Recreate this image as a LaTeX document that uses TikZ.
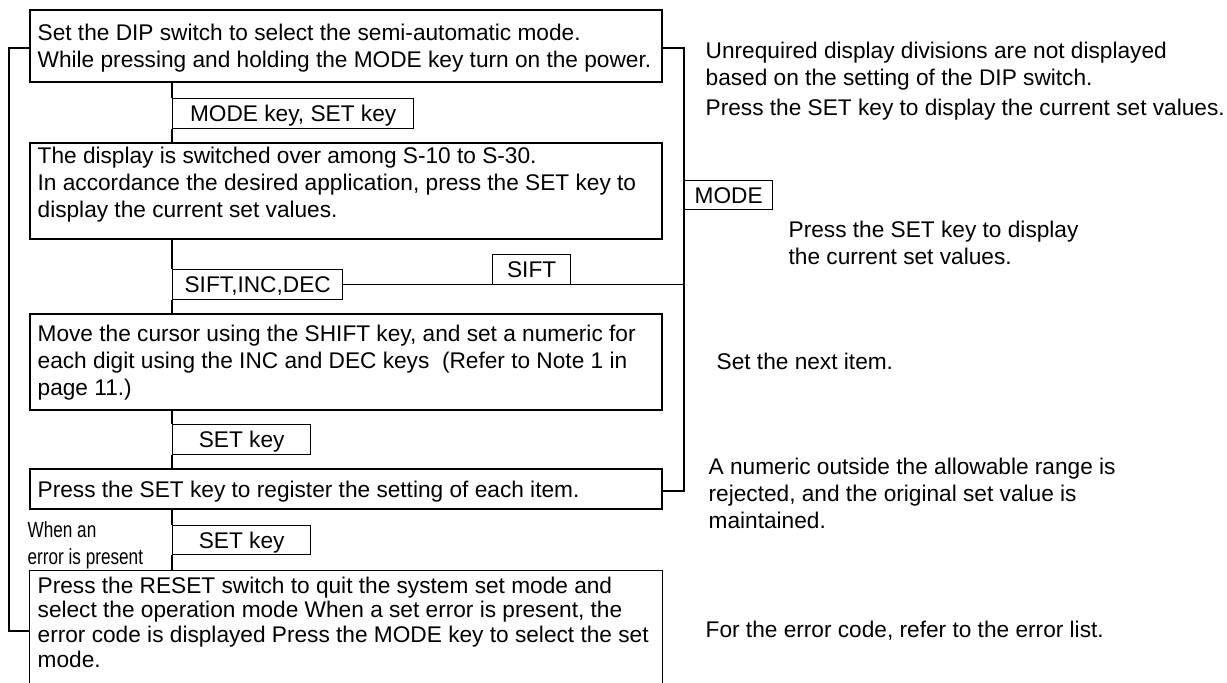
\documentclass[tikz,border=0pt]{standalone}
\usepackage{fontspec}
\setmainfont{Liberation Sans}
\newfontfamily\narrowfont{Liberation Sans}[FakeStretch=0.78]
\usetikzlibrary{fit}
\newcommand\mainfs{\fontsize{17}{20.25}\selectfont}
\newcommand\tightfs{\fontsize{17}{18.6}\selectfont}
\newcommand\narrowfs{\narrowfont\fontsize{16.5}{20.25}\selectfont}
\begin{document}
\begin{tikzpicture}[x=0.75pt,y=-0.75pt,line width=1pt,
  txt/.style={anchor=north west,inner sep=0pt,align=left,font=\mainfs},
  tighttxt/.style={anchor=north west,inner sep=0pt,align=left,font=\tightfs},
  notetxt/.style={anchor=north west,inner sep=0pt,align=left,font=\narrowfs},
  frame/.style={draw,inner sep=0pt},
  keybox/.style={draw,anchor=north west,inner sep=0pt,font=\mainfs,text height=12.2pt,text depth=0pt}]
\useasboundingbox (0,0) rectangle (1227,682);

% main boxes
\node[frame,fit={(30,10) (662,82)}] (b1) {};
\node[frame,fit={(30,143) (662,239)}] (b2) {};
\node[frame,fit={(30,314) (662,410)}] (b3) {};
\node[frame,fit={(30,469) (662,509)}] (b4) {};
\node[inner sep=0pt,fit={(30,571) (662,682)}] (b5) {};
\draw (b5.south west) -- (b5.north west) -- (b5.north east) -- (b5.south east);

% key boxes
\node[keybox,minimum width=180.75pt,minimum height=22.5pt] (k1) at (172,98) {MODE key, SET key};
\node[keybox,minimum width=127.5pt,minimum height=22.5pt] (k2) at (172,269) {SIFT,INC,DEC};
\node[keybox,minimum width=103.5pt,minimum height=22.5pt] (k3) at (172,424) {SET key};
\node[keybox,minimum width=103.5pt,minimum height=21.75pt] (k4) at (172,525) {SET key};
\node[keybox,minimum width=58.5pt,minimum height=22.5pt] (ks) at (492,254) {SIFT};
\node[keybox,minimum width=66pt,minimum height=21.75pt] (km) at (684,180) {MODE};

% box texts
\node[txt] (t1) at (37,21.1) {\strut Set the DIP switch to select the semi-automatic mode.\\While pressing and holding the MODE key turn on the power.};
\node[txt] (t2) at (37,144.1) {\strut The display is switched over among S-10 to S-30.\\In accordance the desired application, press the SET key to\\display the current set values.};
\node[txt] (t3) at (37,322.1) {\strut Move the cursor using the SHIFT key, and set a numeric for\\each digit using the INC and DEC keys\ \ (Refer to Note 1 in\\page 11.)};
\node[txt] (t4) at (37,478.1) {\strut Press the SET key to register the setting of each item.};
\node[tighttxt] (t5) at (37,575) {\strut Press the RESET switch to quit the system set mode and\\select the operation mode When a set error is present, the\\error code is displayed Press the MODE key to select the set\\mode.};
\node[notetxt] (n1) at (27,518.1) {\strut When an\\error is present};

% right-hand notes
\node[txt] (r1) at (705,39.1) {\strut Unrequired display divisions are not displayed\\based on the setting of the DIP switch.};
\node[txt] (r1b) at (705,96.1) {\strut Press the SET key to display the current set values.};
\node[txt] (r2) at (788,218.1) {\strut Press the SET key to display\\the current set values.};
\node[txt] (r3) at (716,350.1) {\strut Set the next item.};
\node[txt] (r4) at (708,455.1) {\strut A numeric outside the allowable range is\\rejected, and the original set value is\\maintained.};
\node[txt] (r5) at (705,618.1) {\strut For the error code, refer to the error list.};

% main flow line
\draw (k1.north west |- b1.south) -- (k1.north west);
\draw (k1.south west) -- (k1.south west |- b2.north);
\draw (k2.north west |- b2.south) -- (k2.north west);
\draw (k2.south west) -- (k2.south west |- b3.north);
\draw (k3.north west |- b3.south) -- (k3.north west);
\draw (k3.south west) -- (k3.south west |- b4.north);
\draw (k4.north west |- b4.south) -- (k4.north west);
\draw (k4.south west) -- (k4.south west |- b5.north);

% right bracket
\coordinate (rt) at (684,48);
\coordinate (rb) at (684,491);
\draw (b1.east |- rt) -- (rt) -- (rb) -- (b4.east |- rb);
\draw (k2.east) -- (k2.east -| rt);

% left loop
\coordinate (lt) at (9,48);
\coordinate (lb) at (9,631);
\draw (b1.west |- lt) -- (lt) -- (lb) -- (b5.west |- lb);
\end{tikzpicture}
\end{document}
